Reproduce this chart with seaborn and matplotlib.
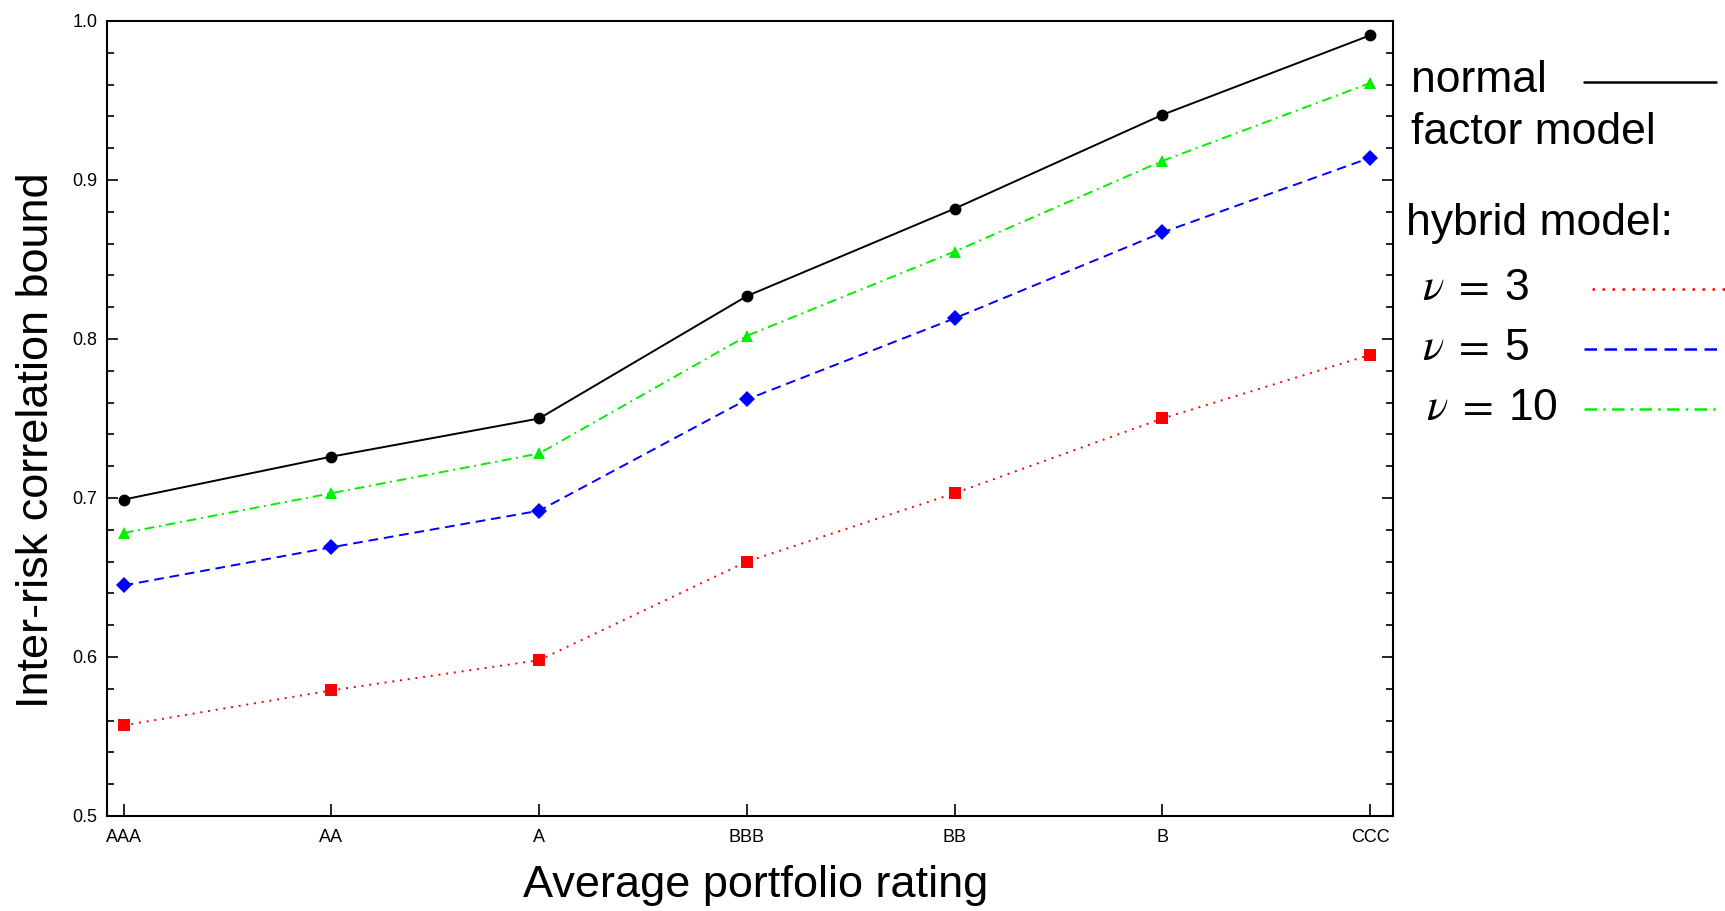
import matplotlib
matplotlib.use("Agg")
import matplotlib.pyplot as plt
from matplotlib.lines import Line2D
from matplotlib.ticker import MultipleLocator, FormatStrFormatter
import numpy as np
import pandas as pd
import seaborn as sns

# Average portfolio rating categories
ratings = ["AAA", "AA", "A", "BBB", "BB", "B", "CCC"]

# Inter-risk correlation bounds per model
normal_factor = [0.699, 0.726, 0.750, 0.827, 0.882, 0.941, 0.991]
hybrid_nu10 = [0.678, 0.703, 0.728, 0.802, 0.855, 0.912, 0.961]
hybrid_nu5 = [0.645, 0.669, 0.692, 0.762, 0.813, 0.867, 0.914]
hybrid_nu3 = [0.557, 0.579, 0.598, 0.660, 0.703, 0.750, 0.790]

series_names = ["normal", "nu10", "nu5", "nu3"]
series_values = [normal_factor, hybrid_nu10, hybrid_nu5, hybrid_nu3]

frames = []
for name, vals in zip(series_names, series_values):
    frames.append(pd.DataFrame({"pos": np.arange(len(ratings)),
                                "rating": ratings,
                                "bound": vals,
                                "model": name}))
df = pd.concat(frames, ignore_index=True)

palette = {"normal": "#000000", "nu10": "#00f000", "nu5": "#0000ff", "nu3": "#ff0000"}
markers = {"normal": "o", "nu10": "^", "nu5": "D", "nu3": "s"}
dashes = {"normal": "", "nu10": (5, 2.5, 1, 2.5), "nu5": (5, 3), "nu3": (1, 3)}

sns.set_style("ticks")
plt.rcParams["font.family"] = ["Liberation Sans", "DejaVu Sans"]
plt.rcParams["mathtext.fontset"] = "stix"
plt.rcParams["text.color"] = "black"
plt.rcParams["axes.labelcolor"] = "black"
plt.rcParams["xtick.color"] = "black"
plt.rcParams["ytick.color"] = "black"

fig = plt.figure(figsize=(17.25, 9.11), dpi=100)
ax = fig.add_axes([107 / 1725, 1 - 816 / 911, (1393 - 107) / 1725, (816 - 21) / 911])

sns.lineplot(data=df, x="pos", y="bound", hue="model", style="model",
             palette=palette, markers=markers, dashes=dashes,
             linewidth=1.4, markersize=8.5, markeredgewidth=0,
             legend=False, ax=ax)

ax.set_xlim(-0.08, 6.11)
ax.set_ylim(0.5, 1.0)
ax.set_xticks(np.arange(len(ratings)))
ax.set_xticklabels(ratings)
ax.yaxis.set_major_locator(MultipleLocator(0.1))
ax.yaxis.set_minor_locator(MultipleLocator(0.02))
ax.yaxis.set_major_formatter(FormatStrFormatter("%.1f"))

for side in ["left", "right", "top", "bottom"]:
    ax.spines[side].set_visible(True)
    ax.spines[side].set_linewidth(1.5)
    ax.spines[side].set_color("black")

ax.tick_params(axis="y", which="both", direction="in", left=True, right=True,
               labelsize=13, pad=7, color="black", labelcolor="black", width=1.2)
ax.tick_params(axis="y", which="major", length=8)
ax.tick_params(axis="y", which="minor", length=5)
ax.tick_params(axis="x", which="both", direction="in", bottom=True, top=False,
               labelsize=13, pad=9, length=9, color="black", labelcolor="black",
               width=1.2)

ax.set_xlabel("Average portfolio rating", fontsize=32.5, va="center", color="black")
ax.set_ylabel("Inter-risk correlation bound", fontsize=32.5, va="center", color="black")
ax.xaxis.set_label_coords(0.504, -0.088)
ax.yaxis.set_label_coords(-0.055, 0.473)

# Key to the right of the plot
fs = 32
fig.text(1411 / 1725, 1 - 80 / 911, "normal", fontsize=fs, va="center", ha="left")
fig.text(1411 / 1725, 1 - 133 / 911, "factor model", fontsize=fs, va="center", ha="left")
fig.text(1406 / 1725, 1 - 224 / 911, "hybrid model:", fontsize=fs, va="center", ha="left")
fig.text(1422 / 1725, 1 - 288 / 911, r"$\nu\;=\;$3", fontsize=fs, va="center", ha="left")
fig.text(1422 / 1725, 1 - 349 / 911, r"$\nu\;=\;$5", fontsize=fs, va="center", ha="left")
fig.text(1426 / 1725, 1 - 409 / 911, r"$\nu\;=\;$10", fontsize=fs, va="center", ha="left")

key_rows = [("normal", 1584, 1716, 82), ("nu3", 1592, 1725, 289),
            ("nu5", 1584, 1720, 349), ("nu10", 1584, 1720, 409)]
for name, x0, x1, y in key_rows:
    ls = "-" if dashes[name] == "" else (0, dashes[name])
    fig.add_artist(Line2D([x0 / 1725, x1 / 1725], [1 - y / 911, 1 - y / 911],
                          transform=fig.transFigure, color=palette[name],
                          linewidth=1.8, linestyle=ls))

fig.savefig("out.png", dpi=100, facecolor="white")
